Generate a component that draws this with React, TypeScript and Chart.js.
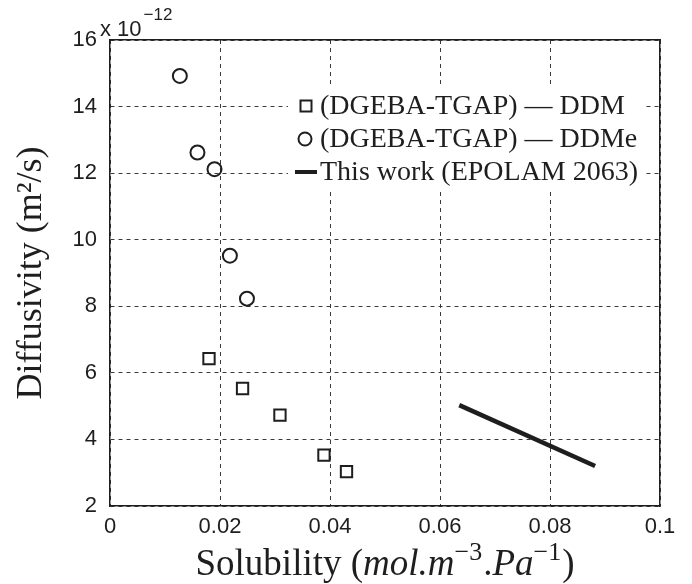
import React, { useEffect, useRef } from "react";
import { Chart, registerables } from "chart.js";

Chart.register(...registerables);

// ---- data (diffusivity in units of 1e-12 m^2/s) ----
const ddmX = [0.018, 0.0241, 0.0309, 0.0389, 0.043];
const ddmY = [6.43, 5.53, 4.73, 3.53, 3.03];
const ddmeX = [0.0127, 0.0159, 0.019, 0.0218, 0.0249];
const ddmeY = [14.92, 12.62, 12.12, 9.52, 8.23];
const workX = [0.0635, 0.0882];
const workY = [5.03, 3.2];

const seriesLabels = [
  "(DGEBA-TGAP) \u2014 DDM",
  "(DGEBA-TGAP) \u2014 DDMe",
  "This work (EPOLAM 2063)",
];
const xTickLabels = ["0", "0.02", "0.04", "0.06", "0.08", "0.1"];
const yTickLabels = ["2", "4", "6", "8", "10", "12", "14", "16"];
const yTitle = "Diffusivity (m\u00b2/s)";
const xTitleParts = [
  { t: "Solubility (", style: "n" },
  { t: "mol.m", style: "i" },
  { t: "\u22123", style: "s" },
  { t: ".", style: "n" },
  { t: "Pa", style: "i" },
  { t: "\u22121", style: "s" },
  { t: ")", style: "n" },
];
const exponentBase = "x 10";
const exponentPower = "\u221212";

const SERIF = "'Liberation Serif', 'Times New Roman', serif";
const SANS = "'Liberation Sans', Arial, sans-serif";
const INK = "#1e1e1e";

const extrasPlugin = {
  id: "extras",
  afterDatasetsDraw(chart: any) {
    const ctx = chart.ctx as CanvasRenderingContext2D;
    // legend box (white, no border)
    ctx.save();
    ctx.fillStyle = "#ffffff";
    ctx.fillRect(288, 88, 356, 104);
    const rows = [106, 139, 172];
    const mx = 306;
    ctx.strokeStyle = INK;
    ctx.lineWidth = 2;
    ctx.strokeRect(mx - 5.5, rows[0] - 5.5, 11, 11);
    ctx.beginPath();
    ctx.arc(mx - 1, rows[1], 6.5, 0, Math.PI * 2);
    ctx.stroke();
    ctx.lineWidth = 4;
    ctx.beginPath();
    ctx.moveTo(mx - 11, rows[2]);
    ctx.lineTo(mx + 11, rows[2]);
    ctx.stroke();
    ctx.fillStyle = INK;
    ctx.font = `28px ${SERIF}`;
    ctx.textBaseline = "middle";
    ctx.textAlign = "left";
    chart.data.datasets.forEach((ds: any, i: number) => {
      ctx.fillText(ds.label, 320, rows[i] + 1);
    });
    ctx.restore();
  },
  afterDraw(chart: any) {
    const ctx = chart.ctx as CanvasRenderingContext2D;
    const area = chart.chartArea;
    ctx.save();
    ctx.fillStyle = INK;
    ctx.textBaseline = "alphabetic";
    ctx.textAlign = "left";
    const fontFor = (s: string) =>
      s === "i" ? `italic 37px ${SERIF}` : s === "s" ? `26px ${SERIF}` : `37px ${SERIF}`;
    let total = 0;
    const widths = xTitleParts.map((p) => {
      ctx.font = fontFor(p.style);
      const w = ctx.measureText(p.t).width + (p.style === "s" ? 1 : 0);
      total += w;
      return w;
    });
    let x = (area.left + area.right) / 2 - total / 2;
    const base = 575;
    xTitleParts.forEach((p, i) => {
      ctx.font = fontFor(p.style);
      ctx.fillText(p.t, x, p.style === "s" ? base - 15 : base);
      x += widths[i];
    });
    // exponent label
    ctx.font = `22px ${SANS}`;
    ctx.fillText(exponentBase, 100, 36);
    const bw = ctx.measureText(exponentBase).width;
    ctx.font = `17px ${SANS}`;
    ctx.fillText(exponentPower, 100 + bw + 2, 20);
    ctx.restore();
  },
};

export default function App() {
  const ref = useRef<HTMLCanvasElement>(null);
  useEffect(() => {
    document.body.style.margin = "0";
    const canvas = ref.current;
    if (!canvas) return;
    const xy = (xs: number[], ys: number[]) => xs.map((x, i) => ({ x, y: ys[i] }));
    const chart = new Chart(canvas, {
      type: "scatter",
      data: {
        datasets: [
          {
            label: seriesLabels[0],
            data: xy(ddmX, ddmY),
            pointStyle: "rect",
            pointRadius: 8,
            pointBorderWidth: 2,
            pointBorderColor: INK,
            pointBackgroundColor: "rgba(0,0,0,0)",
            borderColor: INK,
            backgroundColor: "rgba(0,0,0,0)",
          },
          {
            label: seriesLabels[1],
            data: xy(ddmeX, ddmeY),
            pointStyle: "circle",
            pointRadius: 7,
            pointBorderWidth: 2,
            pointBorderColor: INK,
            pointBackgroundColor: "rgba(0,0,0,0)",
            borderColor: INK,
            backgroundColor: "rgba(0,0,0,0)",
          },
          {
            label: seriesLabels[2],
            data: xy(workX, workY),
            showLine: true,
            borderColor: INK,
            borderWidth: 4.5,
            borderCapStyle: "butt",
            pointRadius: 0,
            pointBorderWidth: 0,
          },
        ],
      } as any,
      options: {
        animation: false,
        responsive: false,
        devicePixelRatio: 1,
        layout: { padding: { top: 40, right: 32, left: 0, bottom: 0 } },
        plugins: {
          legend: { display: false },
          tooltip: { enabled: false },
        },
        scales: {
          x: {
            type: "linear",
            position: "bottom",
            min: 0,
            max: 0.1,
            afterFit: (s: any) => {
              s.height = 78;
            },
            ticks: {
              stepSize: 0.02,
              color: INK,
              padding: 8,
              maxRotation: 0,
              font: { family: SANS, size: 22 },
              callback: (_v: any, i: number) => xTickLabels[i],
            },
            grid: { color: "#3a3a3a", lineWidth: 1, drawTicks: false },
            border: { display: true, color: INK, width: 1.5, dash: [4, 4] },
          },
          y: {
            type: "linear",
            position: "left",
            min: 2,
            max: 16,
            afterFit: (s: any) => {
              s.width = 110;
            },
            ticks: {
              stepSize: 2,
              color: INK,
              padding: 13,
              font: { family: SANS, size: 22 },
              callback: (_v: any, i: number) => yTickLabels[i],
            },
            grid: { color: "#3a3a3a", lineWidth: 1, drawTicks: false },
            border: { display: true, color: INK, width: 1.5, dash: [4, 4] },
            title: {
              display: true,
              text: yTitle,
              color: INK,
              font: { family: SERIF, size: 36 },
              padding: { top: 10, bottom: 0 },
            },
          },
          x2: {
            type: "linear",
            position: "top",
            min: 0,
            max: 0.1,
            afterFit: (s: any) => {
              s.height = 0;
            },
            ticks: { display: false },
            grid: { display: false, drawTicks: false },
            border: { display: true, color: INK, width: 1.5 },
          },
          y2: {
            type: "linear",
            position: "right",
            min: 2,
            max: 16,
            afterFit: (s: any) => {
              s.width = 0;
            },
            ticks: { display: false },
            grid: { display: false, drawTicks: false },
            border: { display: true, color: INK, width: 1.5 },
          },
        },
      } as any,
      plugins: [extrasPlugin],
    });
    return () => chart.destroy();
  }, []);
  return (
    <div style={{ position: "fixed", left: 0, top: 0, width: 692, height: 584, background: "#fff" }}>
      <canvas ref={ref} width={692} height={584} style={{ display: "block" }} />
    </div>
  );
}
